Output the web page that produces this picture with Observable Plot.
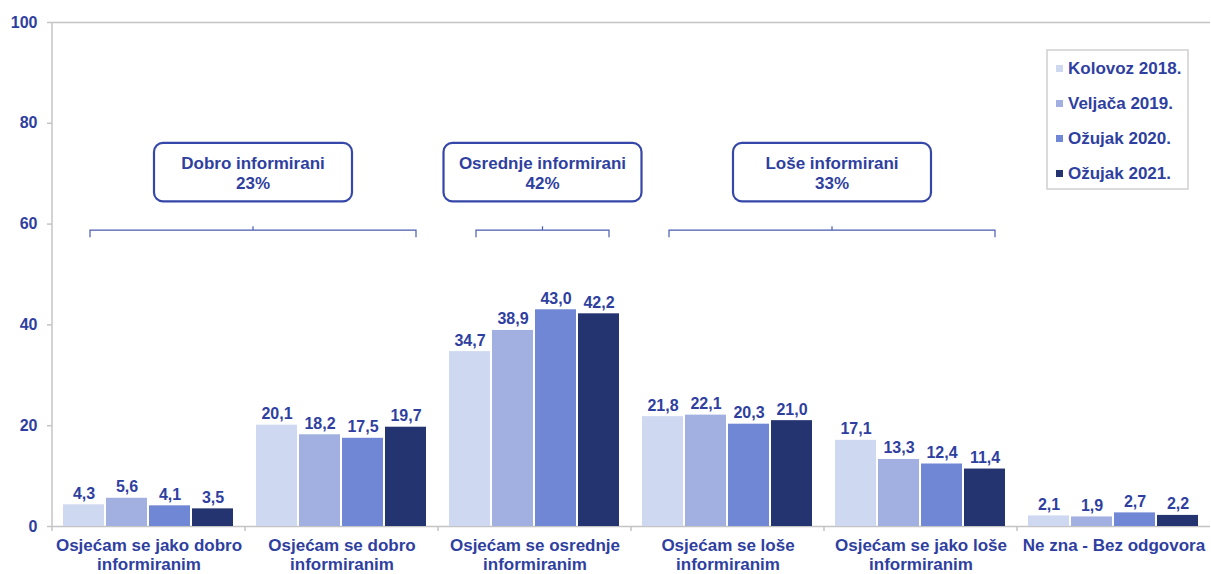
<!DOCTYPE html>
<html><head><meta charset="utf-8">
<script src="https://cdn.jsdelivr.net/npm/d3@7"></script>
<script src="https://cdn.jsdelivr.net/npm/@observablehq/plot@0.6"></script>
<style>
body{margin:0;overflow:hidden;background:#fff}
#chart{position:relative;width:1211px;height:574px;overflow:hidden}
</style>
</head><body><div id="chart"></div>
<script>
// ---- data ----
const groups = ["Osjećam se jako dobro informiranim","Osjećam se dobro informiranim","Osjećam se osrednje informiranim","Osjećam se loše informiranim","Osjećam se jako loše informiranim","Ne zna - Bez odgovora"];
const groupLabels = ["Osjećam se jako dobro\ninformiranim","Osjećam se dobro\ninformiranim","Osjećam se osrednje\ninformiranim","Osjećam se loše\ninformiranim","Osjećam se jako loše\ninformiranim","Ne zna - Bez odgovora"];
const series = ["Kolovoz 2018.","Veljača 2019.","Ožujak 2020.","Ožujak 2021."];
const kolovoz2018 = [4.3,20.1,34.7,21.8,17.1,2.1];
const veljaca2019 = [5.6,18.2,38.9,22.1,13.3,1.9];
const ozujak2020  = [4.1,17.5,43.0,20.3,12.4,2.7];
const ozujak2021  = [3.5,19.7,42.2,21.0,11.4,2.2];
const yTicks = [0,20,40,60,80,100];
const bracketGroups = [
  {from: 0, to: 1, title: "Dobro informirani", pct: "23%"},
  {from: 2, to: 2, title: "Osrednje informirani", pct: "42%"},
  {from: 3, to: 4, title: "Loše informirani", pct: "33%"}
];

// ---- styling ----
const colors = ["#CFD8F1","#A2B0E1","#6F87D4","#243471"];
const textColor = "#2F3F9F";
const gray = "#C4C4C4";
const font = "'Liberation Sans', Arial, sans-serif";

const allSeries = [kolovoz2018, veljaca2019, ozujak2020, ozujak2021];
const data = [];
groups.forEach((g, i) => series.forEach((s, j) => data.push({group: g, series: s, value: allSeries[j][i]})));
const fmt = v => d3.format(".1f")(v).replace(".", ",");

const plot = Plot.plot({
  width: 1211,
  height: 574,
  marginLeft: 51,
  marginRight: 0,
  marginTop: 22,
  marginBottom: 48,
  style: {fontFamily: font, color: textColor, background: "#fff", overflow: "hidden"},
  fx: {domain: groups, padding: 0, axis: null},
  x: {domain: series, axis: null, paddingInner: 0.04, paddingOuter: 0.23},
  y: {domain: [0, 100], axis: null},
  color: {domain: series, range: colors},
  marks: [
    Plot.axisY(yTicks, {anchor: "left", tickSize: 5, tickPadding: 10, stroke: gray, strokeWidth: 1.5,
      fill: textColor, fontSize: 16, fontWeight: "bold", label: null}),
    Plot.ruleY([0, 100], {stroke: gray, strokeWidth: 1.5}),
    Plot.barY(data, {fx: "group", x: "series", y: "value", fill: "series", insetLeft: 0, insetRight: 0}),
    Plot.text(data, {fx: "group", x: "series", y: "value", text: d => fmt(d.value), dy: -6, lineAnchor: "bottom",
      fill: textColor, fontSize: 16, fontWeight: "bold"}),
    Plot.text(groups, {fx: d => d, frameAnchor: "bottom", text: d => groupLabels[groups.indexOf(d)],
      lineAnchor: "top", dy: 11, lineHeight: 1.12, fill: textColor, fontSize: 17, fontWeight: "bold"})
  ]
});
document.getElementById("chart").appendChild(plot);

// ---- post-hoc annotations using Plot's scales ----
const svg = d3.select(plot);
const fx = plot.scale("fx");
const y = plot.scale("y");
const bw = fx.bandwidth;
const x0 = fx.apply(groups[0]);
const y0 = y.apply(0), y100 = y.apply(100);
const g = svg.append("g").attr("text-anchor", "start");
// y axis line
g.append("line").attr("x1", x0).attr("x2", x0).attr("y1", y100).attr("y2", y0).attr("stroke", gray).attr("stroke-width", 1.5);
// group boundary ticks
groups.forEach((d, i) => {
  const xx = fx.apply(d);
  g.append("line").attr("x1", xx).attr("x2", xx).attr("y1", y0).attr("y2", y0 + 5).attr("stroke", gray).attr("stroke-width", 1.5);
});
// brackets + boxes
const yb = y.apply(58.7), boxTop = y.apply(76), boxBot = y.apply(64.4);
bracketGroups.forEach(b => {
  const xa = fx.apply(groups[b.from]) + 38;
  const xb = fx.apply(groups[b.to]) + bw - 22;
  const xm = (xa + xb) / 2;
  g.append("path").attr("d", `M${xa},${yb + 7}V${yb}H${xb}V${yb + 7}M${xm},${yb}V${yb - 4}`)
    .attr("fill", "none").attr("stroke", "#4A5BB0").attr("stroke-width", 1.2);
  const w = 198;
  g.append("rect").attr("x", xm - w / 2).attr("y", boxTop).attr("width", w).attr("height", boxBot - boxTop)
    .attr("rx", 9).attr("fill", "#fff").attr("stroke", "#3547A8").attr("stroke-width", 2.2);
  const t = g.append("text").attr("text-anchor", "middle").attr("fill", textColor)
    .attr("font-size", 17).attr("font-weight", "bold").attr("font-family", font);
  t.append("tspan").attr("x", xm).attr("y", boxTop + 26).text(b.title);
  t.append("tspan").attr("x", xm).attr("y", boxTop + 46).text(b.pct);
});
// legend
const lg = g.append("g").attr("transform", "translate(1047,50)");
lg.append("rect").attr("width", 141).attr("height", 139).attr("fill", "#fff").attr("stroke", "#CFCFCF").attr("stroke-width", 1.5);
series.forEach((s, i) => {
  const cy = 18 + i * 35;
  lg.append("rect").attr("x", 9).attr("y", cy - 3).attr("width", 7).attr("height", 7).attr("fill", colors[i]);
  lg.append("text").attr("x", 21).attr("y", cy + 6).attr("text-anchor", "start").attr("fill", textColor).attr("font-size", 17)
    .attr("font-weight", "bold").attr("font-family", font).text(s);
});
</script>
</body></html>
